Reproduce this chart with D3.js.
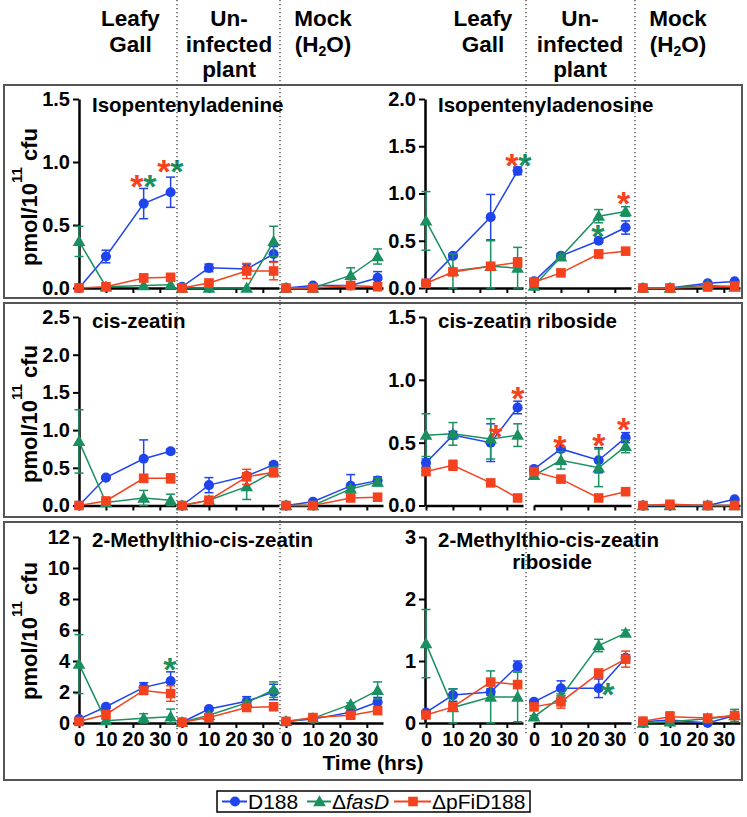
<!DOCTYPE html>
<html><head><meta charset="utf-8">
<script src="https://cdn.jsdelivr.net/npm/d3@7"></script>
<style>
body{margin:0;background:#fff}
svg{display:block}
text{font-family:"Liberation Sans",Arial,Helvetica,sans-serif}
</style>
</head><body>
<svg id="c" width="747" height="817"></svg>
<script>
// ---------------- DATA ----------------
const times = [0, 10, 24, 34];
const xTicks = [0, 10, 20, 30];
const seriesNames = ["D188", "fasD", "pFiD188"];
const groupHeaders = [["Leafy", "Gall"], ["Un-", "infected", "plant"], ["Mock", "(H2O)"]];

// values are [series D188, ΔfasD, ΔpFiD188][group Leafy Gall, Uninfected, Mock][time 0,10,24,34]
const ipMean = [
  [[0, 0.25, 0.67, 0.76], [0.01, 0.16, 0.15, 0.27], [0, 0.02, 0.02, 0.08]],
  [[0.37, 0.01, 0.02, 0.025], [0, 0, 0, 0.37], [0, 0, 0.1, 0.25]],
  [[0, 0.01, 0.08, 0.085], [0, 0.04, 0.135, 0.135], [0, 0, 0.02, 0.01]]
];
const ipErr = [
  [[0, 0.05, 0.12, 0.12], [0, 0.03, 0.04, 0.06], [0, 0.01, 0.01, 0.05]],
  [[0.12, 0, 0, 0], [0, 0, 0, 0.12], [0, 0, 0.06, 0.06]],
  [[0, 0, 0.03, 0.02], [0, 0.01, 0.06, 0.07], [0, 0, 0.01, 0]]
];
const iprMean = [
  [[0.05, 0.34, 0.75, 1.24], [0.07, 0.34, 0.5, 0.64], [0, 0, 0.05, 0.07]],
  [[0.71, 0.18, 0.23, 0.21], [0.02, 0.33, 0.76, 0.81], [0, 0, 0.03, 0.01]],
  [[0.05, 0.17, 0.23, 0.27], [0.06, 0.16, 0.36, 0.39], [0, 0, 0.01, 0.02]]
];
const iprErr = [
  [[0.02, 0.02, 0.24, 0.04], [0.03, 0.02, 0.02, 0.07], [0, 0, 0.01, 0.01]],
  [[0.31, 0.18, 0.27, 0.22], [0, 0.02, 0.07, 0.05], [0, 0, 0.01, 0.01]],
  [[0.02, 0.02, 0.03, 0.05], [0.04, 0.02, 0.04, 0.02], [0, 0, 0.01, 0.01]]
];
const czMean = [
  [[0, 0.37, 0.62, 0.72], [0, 0.27, 0.39, 0.54], [0, 0.05, 0.26, 0.33]],
  [[0.85, 0.04, 0.1, 0.07], [0, 0.07, 0.25, 0.45], [0, 0, 0.22, 0.31]],
  [[0, 0.06, 0.36, 0.36], [0, 0.07, 0.38, 0.44], [0, 0, 0.1, 0.11]]
];
const czErr = [
  [[0, 0.02, 0.25, 0.03], [0.02, 0.1, 0.03, 0.03], [0, 0.01, 0.15, 0.05]],
  [[0.42, 0.02, 0.1, 0.08], [0, 0.02, 0.17, 0.06], [0, 0, 0.03, 0.05]],
  [[0, 0.02, 0.05, 0.06], [0, 0.02, 0.1, 0.06], [0, 0, 0.03, 0.03]]
];
const czrMean = [
  [[0.34, 0.56, 0.5, 0.78], [0.29, 0.45, 0.36, 0.54], [0, 0, 0, 0.05]],
  [[0.56, 0.57, 0.53, 0.56], [0.24, 0.36, 0.3, 0.47], [0, 0, 0, 0]],
  [[0.27, 0.32, 0.18, 0.06], [0.27, 0.21, 0.06, 0.11], [0, 0.01, 0, 0]]
];
const czrErr = [
  [[0.03, 0.03, 0.15, 0.05], [0.02, 0.02, 0.1, 0.04], [0, 0, 0, 0.01]],
  [[0.17, 0.09, 0.16, 0.09], [0.03, 0.07, 0.15, 0.05], [0, 0, 0, 0]],
  [[0.03, 0.04, 0.01, 0.01], [0.02, 0.01, 0.01, 0.01], [0, 0.01, 0, 0]]
];
const mtzMean = [
  [[0.25, 1.05, 2.3, 2.7], [0.05, 0.9, 1.4, 2.0], [0.1, 0.25, 0.7, 1.35]],
  [[3.8, 0.15, 0.3, 0.4], [0.05, 0.5, 1.3, 2.15], [0.1, 0.3, 1.2, 2.1]],
  [[0.1, 0.55, 2.1, 1.9], [0.05, 0.35, 1.0, 1.05], [0.1, 0.35, 0.5, 0.8]]
];
const mtzErr = [
  [[0.05, 0.1, 0.3, 0.6], [0, 0.1, 0.3, 0.5], [0, 0.05, 0.1, 0.3]],
  [[1.9, 0.1, 0.3, 0.5], [0, 0.05, 0.1, 0.5], [0, 0.05, 0.1, 0.55]],
  [[0.05, 0.1, 0.2, 0.5], [0, 0.05, 0.2, 0.15], [0, 0.05, 0.1, 0.15]]
];
const mtzrMean = [
  [[0.17, 0.45, 0.5, 0.92], [0.34, 0.56, 0.56, 1.05], [0.02, 0.05, 0.0, 0.12]],
  [[1.28, 0.25, 0.42, 0.42], [0.1, 0.42, 1.25, 1.45], [0, 0.02, 0.07, 0.12]],
  [[0.13, 0.26, 0.66, 0.62], [0.26, 0.34, 0.8, 1.03], [0.03, 0.1, 0.08, 0.12]]
];
const mtzrErr = [
  [[0.03, 0.1, 0.05, 0.08], [0.03, 0.12, 0.15, 0.05], [0, 0.02, 0, 0.03]],
  [[0.55, 0.3, 0.42, 0.4], [0.02, 0.05, 0.1, 0.05], [0, 0, 0.03, 0.1]],
  [[0.03, 0.03, 0.05, 0.05], [0.03, 0.1, 0.07, 0.13], [0.02, 0.08, 0.03, 0.03]]
];

const ipTicks = [0, 0.5, 1.0, 1.5];
const iprTicks = [0, 0.5, 1.0, 1.5, 2.0];
const czTicks = [0, 0.5, 1.0, 1.5, 2.0, 2.5];
const czrTicks = [0, 0.5, 1.0, 1.5];
const mtzTicks = [0, 2, 4, 6, 8, 10, 12];
const mtzrTicks = [0, 1, 2, 3];

// significance asterisks: [panel index, group, time position, value position, series colour index]
const stars = [
  [0, 0, 21.5, 0.86, 2], [0, 0, 26.3, 0.86, 1], [0, 0, 31.5, 0.98, 2], [0, 0, 36.3, 0.98, 1],
  [1, 0, 31.9, 1.37, 2], [1, 0, 36.7, 1.37, 1], [1, 1, 23.7, 0.61, 1], [1, 1, 33.3, 0.96, 2],
  [3, 0, 34.1, 0.90, 2], [3, 0, 25.9, 0.60, 2], [3, 1, 9.6, 0.51, 2], [3, 1, 24.1, 0.53, 2], [3, 1, 33.3, 0.66, 2],
  [4, 0, 33.7, 3.87, 1],
  [5, 1, 27.4, 0.56, 1]
];

// ---------------- LAYOUT ----------------
const svg = d3.select("#c");
const colors = ["#1f44ee", "#1a9060", "#f4421f"];
const symbols = [d3.symbolCircle, d3.symbolTriangle, d3.symbolSquare];
const symSizes = [80, 70, 92];

const sides = {
  left: {axisX: 79, segStart: [79, 182, 286], titleX: 92, headerX: [130.5, 229, 323]},
  right: {axisX: 425, segStart: [426, 534, 643], titleX: 438, headerX: [483, 580, 678]}
};
const rows = [
  {y0: 288, y1: 99, box: [85, 298], titleY: 112, labelY: 197},
  {y0: 505.5, y1: 317, box: [303, 517], titleY: 328, labelY: 414},
  {y0: 723, y1: 537, box: [522, 780], titleY: 547, labelY: 631}
];
const panels = [
  {row: 0, side: "left", title: ["Isopentenyladenine"], mean: ipMean, err: ipErr, ticks: ipTicks, fmt: ".1f"},
  {row: 0, side: "right", title: ["Isopentenyladenosine"], mean: iprMean, err: iprErr, ticks: iprTicks, fmt: ".1f"},
  {row: 1, side: "left", title: ["cis-zeatin"], mean: czMean, err: czErr, ticks: czTicks, fmt: ".1f"},
  {row: 1, side: "right", title: ["cis-zeatin riboside"], mean: czrMean, err: czrErr, ticks: czrTicks, fmt: ".1f"},
  {row: 2, side: "left", title: ["2-Methylthio-cis-zeatin"], mean: mtzMean, err: mtzErr, ticks: mtzTicks, fmt: "d"},
  {row: 2, side: "right", title: ["2-Methylthio-cis-zeatin", "riboside"], mean: mtzrMean, err: mtzrErr, ticks: mtzrTicks, fmt: "d"}
];

// boxes
rows.forEach(r => {
  svg.append("rect").attr("x", 4).attr("y", r.box[0]).attr("width", 738).attr("height", r.box[1] - r.box[0])
    .attr("fill", "none").attr("stroke", "#555").attr("stroke-width", 2);
});

// headers
const headerBase = [26, 51.5, 77];
Object.values(sides).forEach(sd => {
  groupHeaders.forEach((lines, g) => {
    lines.forEach((ln, li) => {
      const t = svg.append("text").attr("x", sd.headerX[g]).attr("y", headerBase[li])
        .attr("text-anchor", "middle").attr("font-size", 22.5).attr("font-weight", "bold").attr("fill", "#000");
      if (ln === "(H2O)") {
        t.append("tspan").text("(H");
        t.append("tspan").attr("font-size", 14).attr("dy", 4).text("2");
        t.append("tspan").attr("dy", -4).text("O)");
      } else t.text(ln);
    });
  });
});

// y axis label per row
rows.forEach(r => {
  const t = svg.append("text").attr("transform", `translate(37,${r.labelY}) rotate(-90)`)
    .attr("text-anchor", "middle").attr("font-size", 22).attr("font-weight", "bold");
  t.append("tspan").text("pmol/10");
  t.append("tspan").attr("font-size", 15).attr("dy", -15).text("11");
  t.append("tspan").attr("dy", 15).text(" cfu");
});

const panelScales = [];
panels.forEach((p, pi) => {
  const sd = sides[p.side], r = rows[p.row];
  const y = d3.scaleLinear().domain([0, d3.max(p.ticks)]).range([r.y0, r.y1]);
  const xs = sd.segStart.map(s => d3.scaleLinear().domain([0, 36]).range([s, s + 97]));
  panelScales.push({y, xs});

  // title
  p.title.forEach((tl, i) => {
    const t = svg.append("text").attr("font-size", 20.5).attr("font-weight", "bold").text(tl);
    if (i === 0) t.attr("x", sd.titleX).attr("y", r.titleY);
    else t.attr("x", 552).attr("y", r.titleY + 22).attr("text-anchor", "middle");
  });

  // y axis
  const ya = svg.append("g").attr("transform", `translate(${sd.axisX},0)`)
    .call(d3.axisLeft(y).tickValues(p.ticks).tickFormat(d3.format(p.fmt)).tickSize(6).tickSizeOuter(0).tickPadding(3));
  ya.select(".domain").attr("stroke-width", 2.5);
  ya.selectAll(".tick line").attr("stroke-width", 2);
  ya.selectAll(".tick text").attr("font-size", 20).attr("font-weight", "bold").attr("font-family", null).attr("fill", "#000");

  // x axis segments
  xs.forEach((x, g) => {
    const xa = svg.append("g").attr("transform", `translate(0,${r.y0})`)
      .call(d3.axisBottom(x).tickValues(xTicks).tickSize(5).tickSizeOuter(0).tickPadding(4)
        .tickFormat(p.row === 2 ? d3.format("d") : () => ""));
    xa.select(".domain").attr("stroke-width", 2.5);
    xa.selectAll(".tick line").attr("stroke-width", 2);
    xa.selectAll(".tick text").attr("font-size", 20).attr("font-weight", "bold").attr("font-family", null).attr("fill", "#000");
  });

  // series
  p.mean.forEach((groups, s) => {
    const col = colors[s];
    groups.forEach((vals, g) => {
      const x = xs[g];
      const pts = times.map((t, i) => [x(t), y(vals[i])]);
      svg.append("path").attr("d", d3.line()(pts)).attr("fill", "none").attr("stroke", col).attr("stroke-width", 1.5);
      vals.forEach((v, i) => {
        const e = p.err[s][g][i];
        if (e > 0) {
          const cx = x(times[i]);
          const yl = y(Math.max(0, v - e)), yh = y(v + e);
          svg.append("line").attr("x1", cx).attr("x2", cx).attr("y1", yl).attr("y2", yh).attr("stroke", col).attr("stroke-width", 1.5);
          [yl, yh].forEach(yy => svg.append("line").attr("x1", cx - 4.5).attr("x2", cx + 4.5).attr("y1", yy).attr("y2", yy)
            .attr("stroke", col).attr("stroke-width", 1.5));
        }
      });
      vals.forEach((v, i) => {
        svg.append("path").attr("d", d3.symbol().type(symbols[s]).size(symSizes[s])())
          .attr("transform", `translate(${x(times[i])},${y(v) + (s === 1 ? 1 : 0)})`).attr("fill", col);
      });
    });
  });
});

// asterisks
stars.forEach(([pi, g, t, v, c]) => {
  const sc = panelScales[pi];
  svg.append("text").attr("x", sc.xs[g](t)).attr("y", sc.y(v) + 18).attr("text-anchor", "middle")
    .attr("font-size", 34).attr("font-weight", "bold").attr("fill", colors[c]).text("*");
});

// dotted separators
[177, 280, 526, 635].forEach(x => {
  svg.append("line").attr("x1", x).attr("x2", x).attr("y1", 0).attr("y2", 735)
    .attr("stroke", "#333").attr("stroke-width", 1.2).attr("stroke-dasharray", "1.2,2.8");
});

// x label
svg.append("text").attr("x", 373).attr("y", 770).attr("text-anchor", "middle")
  .attr("font-size", 21).attr("font-weight", "bold").text("Time (hrs)");

// legend
svg.append("rect").attr("x", 217).attr("y", 791).attr("width", 313).attr("height", 21)
  .attr("fill", "#fff").attr("stroke", "#000").attr("stroke-width", 1.5);
const legItems = [{x: 222, tx: 248}, {x: 307, tx: 332}, {x: 394, tx: 432}];
legItems.forEach((it, s) => {
  const ly = 801.5;
  svg.append("line").attr("x1", it.x).attr("x2", it.tx - 1).attr("y1", ly).attr("y2", ly).attr("stroke", colors[s]).attr("stroke-width", 2);
  svg.append("path").attr("d", d3.symbol().type(symbols[s]).size(symSizes[s])())
    .attr("transform", `translate(${(it.x + it.tx) / 2},${ly + (s === 1 ? 1 : 0)})`).attr("fill", colors[s]);
  const t = svg.append("text").attr("x", it.tx).attr("y", 809).attr("font-size", 21);
  if (s === 0) t.text(seriesNames[0]);
  else if (s === 1) { t.append("tspan").text("Δ"); t.append("tspan").attr("font-style", "italic").text(seriesNames[1]); }
  else t.text("Δ" + seriesNames[2]);
});
</script>
</body></html>
